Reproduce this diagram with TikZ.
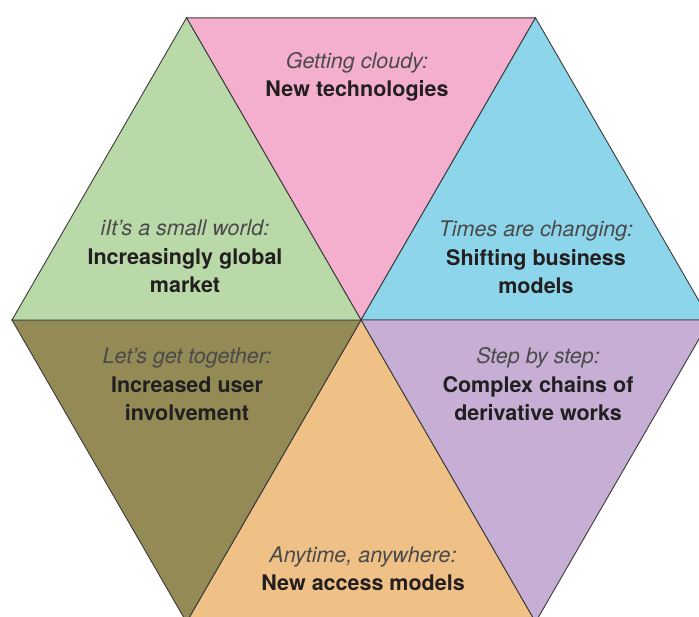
\documentclass[tikz,border=0pt]{standalone}
\usepackage{fontspec}
\setmainfont{TeX Gyre Heros}
\usepackage{xcolor}
\usepackage{tikz}
\usetikzlibrary{positioning,calc}

\definecolor{cloudpink}{HTML}{F4AFCF}
\definecolor{changeblue}{HTML}{8DD5EA}
\definecolor{worldgreen}{HTML}{B9D9A8}
\definecolor{togetherolive}{HTML}{948A55}
\definecolor{anytimeorange}{HTML}{EFC187}
\definecolor{steplilac}{HTML}{C6AED4}
\definecolor{edgegray}{HTML}{3A3A3A}
\definecolor{headgray}{HTML}{4A4A4A}
\definecolor{textdark}{HTML}{231F20}

\tikzset{
  wedge/.style={draw=edgegray, line width=0.9pt, line join=miter},
  theme/.style={align=center, font=\fontsize{21.5}{28.5}\selectfont, text=textdark}
}
\newcommand{\head}[1]{{\itshape\color{headgray}#1}}

\begin{document}
\begin{tikzpicture}[x=1pt, y=-1pt]
    \useasboundingbox (0,0) rectangle (699,616);
    \clip (0,0) rectangle (699,616);
    % hexagon corners
    \coordinate (hub) at (361,320);
    \coordinate (tl) at (186.5,17.8);
    \coordinate (tr) at (535.5,17.8);
    \coordinate (r) at (710,320);
    \coordinate (br) at (535.5,622.2);
    \coordinate (bl) at (186.5,622.2);
    \coordinate (l) at (12,320);

    \filldraw[wedge, fill=cloudpink] (hub) -- (tl) -- (tr) -- cycle;
    \filldraw[wedge, fill=changeblue] (hub) -- (tr) -- (r) -- cycle;
    \filldraw[wedge, fill=steplilac] (hub) -- (r) -- (br) -- cycle;
    \filldraw[wedge, fill=anytimeorange] (hub) -- (br) -- (bl) -- cycle;
    \filldraw[wedge, fill=togetherolive] (hub) -- (bl) -- (l) -- cycle;
    \filldraw[wedge, fill=worldgreen] (hub) -- (l) -- (tl) -- cycle;

    \node (cloudy) [theme] at (357,77) {\head{Getting cloudy:}\\\textbf{New technologies}};
    \node (world) [theme] at (185,256.5) {\head{iIt’s a small world:}\\\textbf{Increasingly global}\\\textbf{market}};
    \node (changing) [theme] at (536,257.5) {\head{Times are changing:}\\\textbf{Shifting business}\\\textbf{models}};
    \node (together) [theme] at (187,384.5) {\head{Let’s get together:}\\\textbf{Increased user}\\\textbf{involvement}};
    \node (stepwise) [theme] at (538,384.5) {\head{Step by step:}\\\textbf{Complex chains of}\\\textbf{derivative works}};
    \node (anytime) [theme] at (363,569) {\head{Anytime, anywhere:}\\\textbf{New access models}};
\end{tikzpicture}
\end{document}
